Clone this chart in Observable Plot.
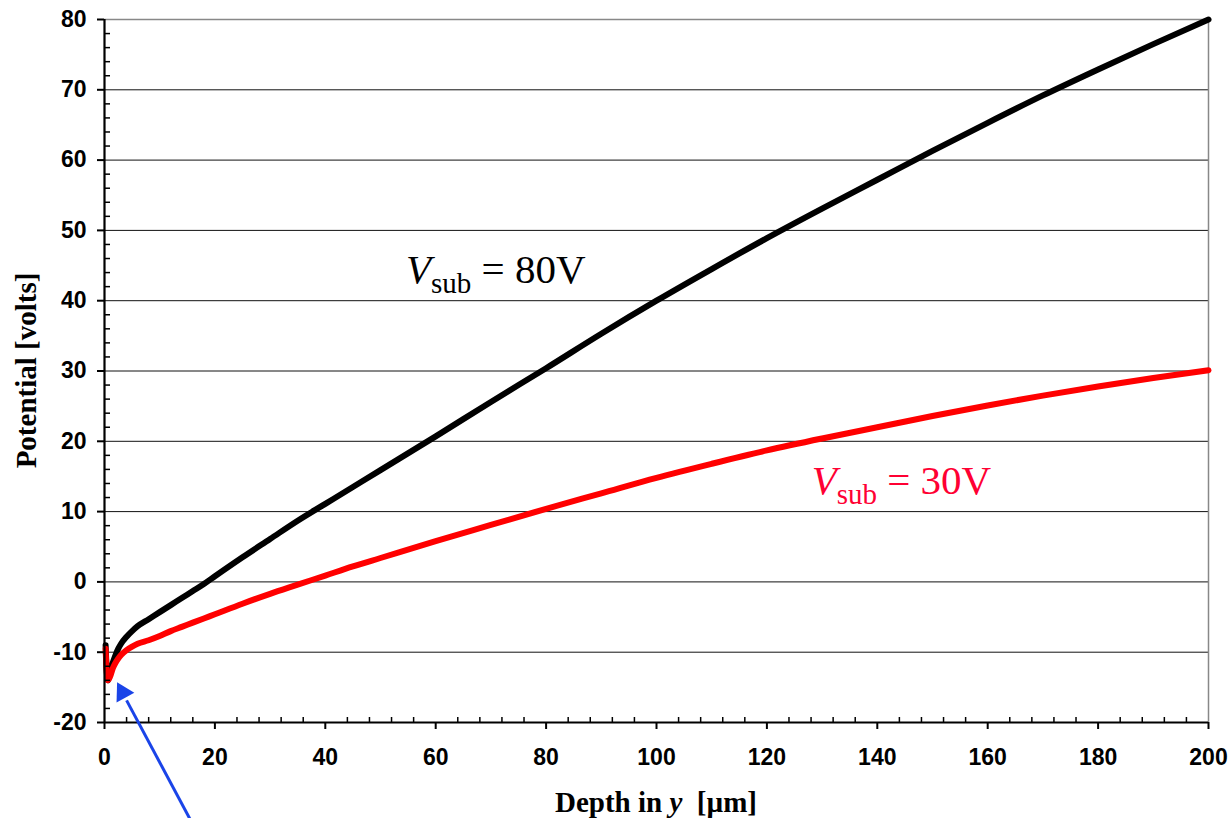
<!DOCTYPE html>
<html><head><meta charset="utf-8">
<script src="https://cdn.jsdelivr.net/npm/d3@7"></script>
<script src="https://cdn.jsdelivr.net/npm/@observablehq/plot@0.6"></script>
<style>body{margin:0;background:#fff} svg{display:block}</style>
</head><body><div id="chart"></div>
<script>
const depth = [0.2, 0.4, 0.6, 1.0, 1.5, 2, 2.5, 3, 4, 5, 6, 8, 10, 12, 14, 16, 18, 20, 25, 30, 35, 40, 45, 50, 60, 70, 80, 90, 100, 110, 120, 130, 140, 150, 160, 170, 180, 190, 200];
const v80 = [-9.0, -12.5, -14.0, -12.9, -11.5, -10.4, -9.5, -8.8, -7.8, -7.0, -6.3, -5.3, -4.3, -3.3, -2.3, -1.3, -0.3, 0.8, 3.5, 6.1, 8.7, 11.1, 13.5, 15.9, 20.7, 25.6, 30.4, 35.3, 40.0, 44.5, 48.9, 53.1, 57.2, 61.3, 65.3, 69.2, 72.9, 76.5, 80.0];
const v30 = [-9.5, -12.8, -14.0, -13.5, -12.3, -11.5, -10.9, -10.4, -9.7, -9.2, -8.8, -8.3, -7.7, -7.0, -6.4, -5.8, -5.2, -4.6, -3.1, -1.7, -0.4, 0.9, 2.2, 3.4, 5.8, 8.1, 10.4, 12.6, 14.8, 16.8, 18.7, 20.4, 22.0, 23.6, 25.1, 26.5, 27.8, 29.0, 30.1];
const xTicks = d3.range(0, 201, 20);
const xMinor = d3.range(0, 201, 4).filter(d => d % 20 !== 0);
const yTicks = d3.range(-20, 81, 10);
const yMinor = d3.range(-20, 81, 2).filter(d => d % 10 !== 0);
const gridY = [-10, 0, 10, 20, 30, 40, 50, 60, 70];
const curveLabels = [
  {x: 54.7, y: 42.45, value: "80V", color: "#000000"},
  {x: 128.2, y: 12.5, value: "30V", color: "#ff0033"}
];
const arrowTail = [{x: 15.6, y: -33.9}];
const arrowTip = [{x: 2.4, y: -14.45}];

const rows80 = depth.map((d, i) => ({depth: d, v: v80[i]}));
const rows30 = depth.map((d, i) => ({depth: d, v: v30[i]}));
const W = 1230, H = 818, ML = 104, MR = 22, MT = 19, MB = 96;
const FW = W - ML - MR, FH = H - MT - MB;
const blue = "#1a44e8";
const TICK_FONT = 23;

const chart = Plot.plot({
  width: W, height: H,
  marginLeft: ML, marginRight: MR, marginTop: MT, marginBottom: MB,
  style: {fontFamily: "Liberation Sans, Arial, sans-serif", fontWeight: "bold", color: "#000", background: "#fff"},
  x: {domain: [0, 200], label: null},
  y: {domain: [-20, 80], label: null},
  marks: [
    Plot.ruleY(gridY, {stroke: "#111", strokeWidth: 1}),
    Plot.ruleY([80], {stroke: "#888", strokeWidth: 1.5}),
    Plot.ruleX([200], {stroke: "#888", strokeWidth: 1.5}),
    Plot.line(rows80, {x: "depth", y: "v", stroke: "#000", strokeWidth: 6, strokeLinejoin: "round", curve: "monotone-x"}),
    Plot.line(rows30, {x: "depth", y: "v", stroke: "#ff0000", strokeWidth: 6, strokeLinejoin: "round", curve: "monotone-x"}),
    Plot.tickX(xMinor, {x: d => d, insetTop: FH - 5, stroke: "#000", strokeWidth: 1.5}),
    Plot.tickY(yMinor, {y: d => d, insetRight: FW - 6, stroke: "#000", strokeWidth: 1.5}),
    Plot.ruleY([-20], {stroke: "#000", strokeWidth: 2.2}),
    Plot.ruleX([0], {stroke: "#000", strokeWidth: 2.2}),
    Plot.axisX({ticks: xTicks, tickSize: 7, tickPadding: 19, strokeWidth: 2, tickFormat: d => String(d), fontSize: TICK_FONT, fontWeight: "bold", fill: "#000"}),
    Plot.axisY({ticks: yTicks, tickSize: 7, tickPadding: 11, strokeWidth: 2, tickFormat: d => String(d), fontSize: TICK_FONT, fontWeight: "bold", fill: "#000"}),
    Plot.link([0], {x1: () => arrowTail[0].x, y1: () => arrowTail[0].y, x2: () => arrowTip[0].x + 1.6, y2: () => arrowTip[0].y - 2.4, stroke: blue, strokeWidth: 3}),
    Plot.dot(arrowTip, {x: "x", y: "y", symbol: "triangle", r: 7.5, rotate: -28.4, fill: blue, stroke: "none", dx: 4.9, dy: 9.0})
  ]
});
document.getElementById("chart").appendChild(chart);

const svg = d3.select(chart);
svg.selectAll('g[aria-label$="tick label"]')
  .style("font-size", TICK_FONT + "px").style("font-weight", "bold")
  .style("font-family", "Liberation Sans, Arial, sans-serif");

const sx = chart.scale("x"), sy = chart.scale("y");
const serif = "Liberation Serif, Times New Roman, serif";
curveLabels.forEach(l => {
  const t = svg.append("text")
    .attr("x", sx.apply(l.x)).attr("y", sy.apply(l.y))
    .attr("fill", l.color).attr("text-anchor", "start")
    .style("font-family", serif)
    .style("font-size", "41px").style("font-weight", "normal")
    .style("white-space", "pre");
  t.append("tspan").style("font-style", "italic").text("V");
  t.append("tspan").attr("dy", 10).style("font-size", "29px").text("sub");
  t.append("tspan").attr("dy", -10).text(" = " + l.value);
});

const xt = svg.append("text")
  .attr("x", ML + FW / 2).attr("y", 811.5)
  .attr("text-anchor", "middle").attr("fill", "#000")
  .style("font-family", serif)
  .style("font-size", "29px").style("font-weight", "bold")
  .style("white-space", "pre");
xt.append("tspan").text("Depth in ");
xt.append("tspan").style("font-style", "italic").text("y");
xt.append("tspan").text("  [µm]");

svg.append("text")
  .attr("transform", `translate(36,${MT + FH / 2}) rotate(-90)`)
  .attr("text-anchor", "middle").attr("fill", "#000")
  .style("font-family", serif)
  .style("font-size", "29px").style("font-weight", "bold")
  .text("Potential [volts]");
</script>
</body></html>
